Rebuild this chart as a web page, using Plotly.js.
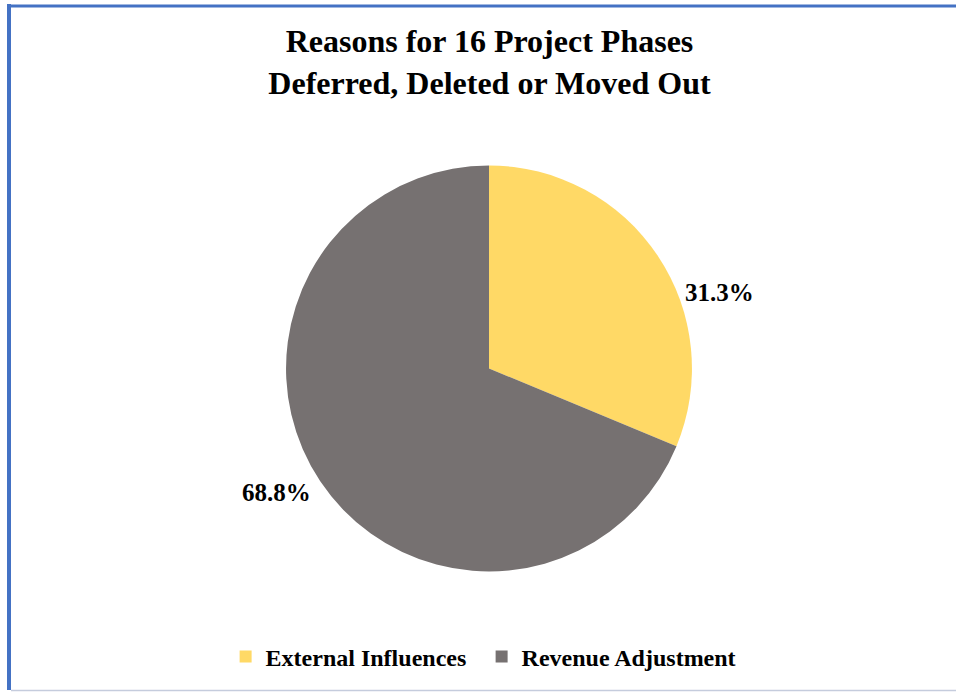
<!DOCTYPE html>
<html>
<head>
<meta charset="utf-8">
<script src="https://cdn.plot.ly/plotly-3.0.1.min.js"></script>
<style>html,body{margin:0;padding:0;background:#fff;}#chart{width:956px;height:692px;}</style>
</head>
<body>
<div id="chart"></div>
<script>
const categories = ["External Influences", "Revenue Adjustment"];
const phaseCounts = [5, 11];
const sliceColors = ["#FFD966", "#767171"];
const titleText = "Reasons for 16 Project Phases<br>Deferred, Deleted or Moved Out";

const total = phaseCounts.reduce((a, b) => a + b, 0);
const pctLabels = phaseCounts.map(v => (v / total * 100).toFixed(1) + "%");

const fam = "Liberation Serif, Times New Roman, serif";

const trace = {
  type: "pie",
  labels: categories,
  values: phaseCounts,
  marker: {colors: sliceColors, line: {color: "#ffffff", width: 0}},
  sort: false,
  direction: "clockwise",
  rotation: 0,
  textinfo: "none",
  hoverinfo: "label+percent",
  domain: {x: [0.2992, 0.7238], y: [0.1734, 0.7616]}
};

const layout = {
  width: 956, height: 692,
  margin: {l: 0, r: 0, t: 0, b: 0},
  paper_bgcolor: "#ffffff",
  font: {family: fam, color: "#000"},
  title: {
    text: titleText,
    font: {family: fam, size: 32, color: "#000", weight: "bold"},
    x: 0.512, xanchor: "center",
    y: 0.925, yanchor: "top"
  },
  showlegend: true,
  legend: {
    orientation: "h",
    x: 0.236, xanchor: "left",
    y: 0.0506, yanchor: "middle",
    font: {family: fam, size: 24, color: "#000", weight: "bold"},
    itemwidth: 30,
    entrywidth: 211, entrywidthmode: "pixels",
    traceorder: "normal"
  },
  annotations: [
    {text: pctLabels[0], x: 0.753, y: 0.578, xref: "paper", yref: "paper",
     xanchor: "center", yanchor: "middle",
     showarrow: false, font: {family: fam, size: 25, color: "#000", weight: "bold"}},
    {text: pctLabels[1], x: 0.289, y: 0.289, xref: "paper", yref: "paper",
     xanchor: "center", yanchor: "middle",
     showarrow: false, font: {family: fam, size: 25, color: "#000", weight: "bold"}}
  ],
  shapes: [
    {type: "line", xref: "paper", yref: "paper", x0: 9/956, x1: 9/956, y0: 1 - 4/692, y1: 1 - 690/692,
     line: {color: "#4472C4", width: 4}},
    {type: "line", xref: "paper", yref: "paper", x0: 7/956, x1: 1, y0: 1 - 6/692, y1: 1 - 6/692,
     line: {color: "#4472C4", width: 3}},
    {type: "line", xref: "paper", yref: "paper", x0: 11/956, x1: 1, y0: 1 - 690.5/692, y1: 1 - 690.5/692,
     line: {color: "#C5CCDD", width: 1.5}}
  ]
};

Plotly.newPlot("chart", [trace], layout, {displayModeBar: false, staticPlot: true});
</script>
</body>
</html>
